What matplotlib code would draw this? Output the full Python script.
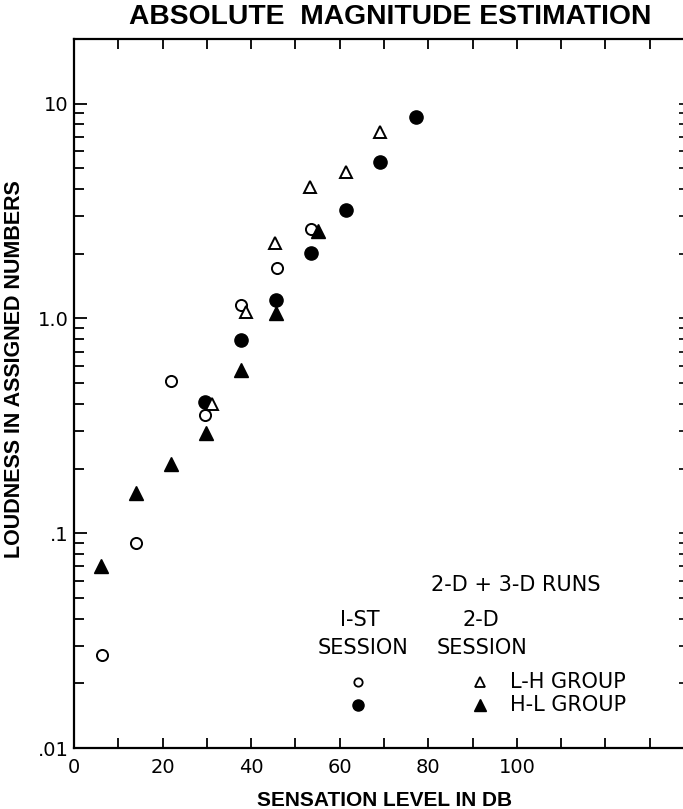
import numpy as np
import matplotlib
matplotlib.use("Agg")
import matplotlib.pyplot as plt
from matplotlib.ticker import LogLocator, FixedLocator, NullFormatter

# sensation level (dB) and loudness (assigned numbers)
lh_first_x = [6.3, 14.1, 21.9, 29.6, 37.6, 45.8, 53.5]
lh_first_y = [0.027, 0.090, 0.51, 0.355, 1.15, 1.72, 2.6]
hl_first_x = [29.6, 37.8, 45.7, 53.4, 61.5, 69.2, 77.2]
hl_first_y = [0.41, 0.79, 1.22, 2.02, 3.2, 5.35, 8.7]
lh_second_x = [31.2, 38.9, 45.3, 53.3, 61.3, 69.0]
lh_second_y = [0.40, 1.07, 2.25, 4.1, 4.8, 7.4]
hl_second_x = [6.1, 13.9, 21.9, 29.8, 37.8, 45.7, 55.2]
hl_second_y = [0.070, 0.154, 0.211, 0.292, 0.575, 1.06, 2.55]

x_labels = [0, 20, 40, 60, 80, 100]
y_major = [0.01, 0.1, 1.0, 10.0]
y_labels = [".01", ".1", "1.0", "10"]

plt.rcParams['font.family'] = ['DejaVu Sans']

fig = plt.figure(figsize=(6.83, 8.09), dpi=100)
ax = fig.add_axes([74/683, 1-748/809, 609/683, 709/809])

ax.plot(lh_first_x, lh_first_y, 'o', ms=8, mfc='white', mec='black', mew=1.4, ls='none', clip_on=False)
ax.plot(hl_first_x, hl_first_y, 'o', ms=9.5, mfc='black', mec='black', ls='none', clip_on=False)
ax.plot(lh_second_x, lh_second_y, '^', ms=9, mfc='white', mec='black', mew=1.4, ls='none', clip_on=False)
ax.plot(hl_second_x, hl_second_y, '^', ms=10, mfc='black', mec='black', ls='none', clip_on=False)

ax.set_yscale('log')
ax.set_ylim(0.01, 20)
ax.set_xlim(0, 137.5)

# ticks
ax.xaxis.set_major_locator(FixedLocator(np.arange(0, 140, 10)))
ax.set_xticklabels([str(v) if v in x_labels else "" for v in np.arange(0, 140, 10)])
ax.yaxis.set_major_locator(FixedLocator(y_major))
ax.set_yticklabels(y_labels)
ax.yaxis.set_minor_locator(LogLocator(base=10, subs=np.arange(2, 10)))
ax.yaxis.set_minor_formatter(NullFormatter())

ax.tick_params(axis='x', which='major', direction='in', length=7, width=1.3,
               top=True, bottom=True, labelsize=14, pad=7)
ax.tick_params(axis='y', which='major', direction='in', length=9, width=1.3,
               left=True, right=False, labelsize=14, pad=4)
ax.tick_params(axis='y', which='minor', direction='in', length=7, width=1.3,
               left=True, right=False)

# right-hand small ticks (spine itself runs off the page)
ax2 = ax.twinx()
ax2.set_yscale('log')
ax2.set_ylim(ax.get_ylim())
ax2.yaxis.set_major_locator(FixedLocator(y_major))
ax2.yaxis.set_minor_locator(LogLocator(base=10, subs=np.arange(2, 10)))
ax2.yaxis.set_major_formatter(NullFormatter())
ax2.yaxis.set_minor_formatter(NullFormatter())
ax2.tick_params(axis='y', which='both', direction='in', length=3, width=1.2)
for s in ax2.spines.values():
    s.set_visible(False)

for s in ['left', 'bottom', 'top']:
    ax.spines[s].set_linewidth(1.6)
ax.spines['right'].set_visible(False)

ax.set_xlabel("SENSATION LEVEL IN DB", family='Liberation Sans', fontweight='bold',
              fontsize=15)
ax.xaxis.set_label_coords(311/609, -0.060)
ax.set_ylabel("LOUDNESS IN ASSIGNED NUMBERS", family='Liberation Sans', fontweight='bold',
              fontsize=15.5)
ax.yaxis.set_label_coords(-49/609, 0.535)
fig.text(390/683, 1-17.5/809, "ABSOLUTE  MAGNITUDE ESTIMATION", family='Liberation Sans',
         fontweight='bold', fontsize=20.3, ha='center', va='center')

# legend block
tk = dict(transform=ax.transAxes, fontsize=15, va='center')
ax.text(0.726, 0.230, "2-D + 3-D RUNS", ha='center', **tk)
ax.text(0.470, 0.1805, "I-ST", ha='center', **tk)
ax.text(0.4745, 0.141, "SESSION", ha='center', **tk)
ax.text(0.668, 0.1805, "2-D", ha='center', **tk)
ax.text(0.670, 0.141, "SESSION", ha='center', **tk)
ax.text(0.716, 0.093, "L-H GROUP", ha='left', **tk)
ax.text(0.716, 0.060, "H-L GROUP", ha='left', **tk)
ax.plot([0.466], [0.093], 'o', ms=6, mfc='white', mec='black', mew=1.3, transform=ax.transAxes)
ax.plot([0.466], [0.060], 'o', ms=8, mfc='black', mec='black', transform=ax.transAxes)
ax.plot([0.667], [0.093], '^', ms=7, mfc='white', mec='black', mew=1.3, transform=ax.transAxes)
ax.plot([0.667], [0.060], '^', ms=8.5, mfc='black', mec='black', transform=ax.transAxes)

fig.savefig("out.png", dpi=100)
